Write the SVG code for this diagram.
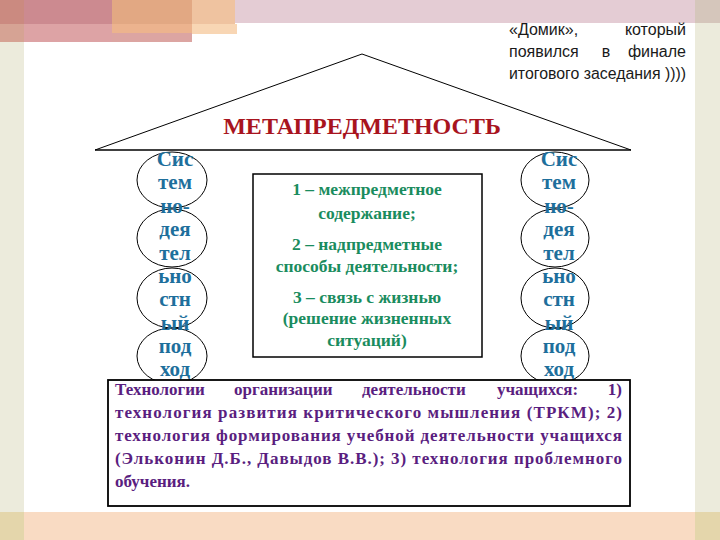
<svg xmlns="http://www.w3.org/2000/svg" width="720" height="540" viewBox="0 0 720 540">
<style>
.col{font-family:"Liberation Serif","Times New Roman",serif;font-weight:bold;font-size:21px;fill:#1e6f9c;text-anchor:middle}
.ctr{font-family:"Liberation Serif","Times New Roman",serif;font-weight:bold;font-size:17.5px;fill:#1a8c5e;text-anchor:middle}
.bot{font-family:"Liberation Serif","Times New Roman",serif;font-weight:bold;font-size:17px;fill:#5a1e80}
.note{font-family:"Liberation Sans",Arial,sans-serif;font-size:16px;fill:#1a1a1a}
.ell{fill:none;stroke:#000;stroke-width:1}
</style>
<rect width="720" height="540" fill="#ffffff"/>
<g id="decor">
<rect x="0" y="0" width="24" height="24" fill="#cb8a80"/>
<rect x="0" y="24" width="24" height="18" fill="#d6a394"/>
<rect x="24" y="0" width="88" height="24" fill="#cc8a90"/>
<rect x="24" y="24" width="88" height="18" fill="#dda3a5"/>
<rect x="112" y="0" width="80" height="24" fill="#e2a883"/>
<rect x="112" y="24" width="80" height="9" fill="#ecb38e"/>
<rect x="112" y="33" width="80" height="9" fill="#dca5a2"/>
<rect x="192" y="0" width="43" height="24" fill="#efc3a0"/>
<rect x="192" y="24" width="45" height="10" fill="#f8d6b4"/>
<rect x="235" y="0" width="460" height="23" fill="#e4ccd4"/>
<rect x="695" y="0" width="25" height="23" fill="#d5c6bb"/>
<rect x="0" y="42" width="24" height="470" fill="#ecebdc"/>
<rect x="695" y="23" width="25" height="489" fill="#ecebdc"/>
<rect x="0" y="512" width="720" height="28" fill="#f9dbc3"/>
<rect x="0" y="512" width="24" height="28" fill="#e4d6ab"/>
<rect x="695" y="512" width="25" height="28" fill="#e4d6ab"/>
</g>
<g id="note">
<text class="note" x="509" y="35">«Домик»,</text>
<text class="note" x="686" y="35" text-anchor="end">который</text>
<text class="note" x="509" y="57">появился</text>
<text class="note" x="606" y="57" text-anchor="middle">в</text>
<text class="note" x="686" y="57" text-anchor="end">финале</text>
<text class="note" x="509" y="79" textLength="177" lengthAdjust="spacingAndGlyphs">итогового заседания ))))</text>
</g>
<g id="roof">
<polyline points="95,150 362,54 631,150" fill="none" stroke="#000" stroke-width="1"/>
<line x1="95" y1="150" x2="631" y2="150" stroke="#000" stroke-width="1.6"/>
<text x="362" y="134" text-anchor="middle" font-family="'Liberation Serif','Times New Roman',serif" font-weight="bold" font-size="24" fill="#a8141e">МЕТАПРЕДМЕТНОСТЬ</text>
</g>
<g id="left-column">
<ellipse class="ell" cx="172" cy="180" rx="35" ry="28"/>
<ellipse class="ell" cx="172" cy="238" rx="35" ry="29"/>
<ellipse class="ell" cx="172" cy="298" rx="35" ry="30"/>
<ellipse class="ell" cx="172" cy="356" rx="35" ry="28"/>
<text class="col" x="175" y="166">Сис</text>
<text class="col" x="175" y="189">тем</text>
<text class="col" x="175" y="213">но-</text>
<text class="col" x="175" y="236">дея</text>
<text class="col" x="175" y="260">тел</text>
<text class="col" x="175" y="283">ьно</text>
<text class="col" x="175" y="306">стн</text>
<text class="col" x="175" y="330">ый</text>
<text class="col" x="175" y="353">под</text>
<text class="col" x="175" y="376">ход</text>
</g>
<g id="right-column">
<ellipse class="ell" cx="555" cy="180" rx="34" ry="28"/>
<ellipse class="ell" cx="555" cy="238" rx="34" ry="29"/>
<ellipse class="ell" cx="555" cy="298" rx="34" ry="30"/>
<ellipse class="ell" cx="555" cy="356" rx="34" ry="28"/>
<text class="col" x="559" y="166">Сис</text>
<text class="col" x="559" y="189">тем</text>
<text class="col" x="559" y="213">но-</text>
<text class="col" x="559" y="236">дея</text>
<text class="col" x="559" y="260">тел</text>
<text class="col" x="559" y="283">ьно</text>
<text class="col" x="559" y="306">стн</text>
<text class="col" x="559" y="330">ый</text>
<text class="col" x="559" y="353">под</text>
<text class="col" x="559" y="376">ход</text>
</g>
<g id="center-box">
<rect x="253" y="174" width="229" height="183" fill="#ffffff" stroke="#000" stroke-width="1.5"/>
<text class="ctr" x="367" y="195">1 – межпредметное</text>
<text class="ctr" x="367" y="219">содержание;</text>
<text class="ctr" x="367" y="250">2 – надпредметные</text>
<text class="ctr" x="367" y="272">способы деятельности;</text>
<text class="ctr" x="367" y="303">3 – связь с жизнью</text>
<text class="ctr" x="367" y="324">(решение жизненных</text>
<text class="ctr" x="367" y="346">ситуаций)</text>
</g>
<g id="bottom-box">
<rect x="108" y="380" width="522" height="126" fill="#ffffff" stroke="#000" stroke-width="1.8"/>
<text class="bot" x="115" y="395">Технологии</text>
<text class="bot" x="234" y="395">организации</text>
<text class="bot" x="362" y="395">деятельности</text>
<text class="bot" x="497" y="395">учащихся:</text>
<text class="bot" x="622" y="395" text-anchor="end">1)</text>
<text class="bot" x="115" y="418" textLength="507" lengthAdjust="spacing">технология развития критического мышления (ТРКМ); 2)</text>
<text class="bot" x="115" y="441" textLength="507" lengthAdjust="spacing">технология формирования учебной деятельности учащихся</text>
<text class="bot" x="115" y="464" textLength="507" lengthAdjust="spacing">(Эльконин Д.Б., Давыдов В.В.); 3) технология проблемного</text>
<text class="bot" x="115" y="487">обучения.</text>
</g>
</svg>
